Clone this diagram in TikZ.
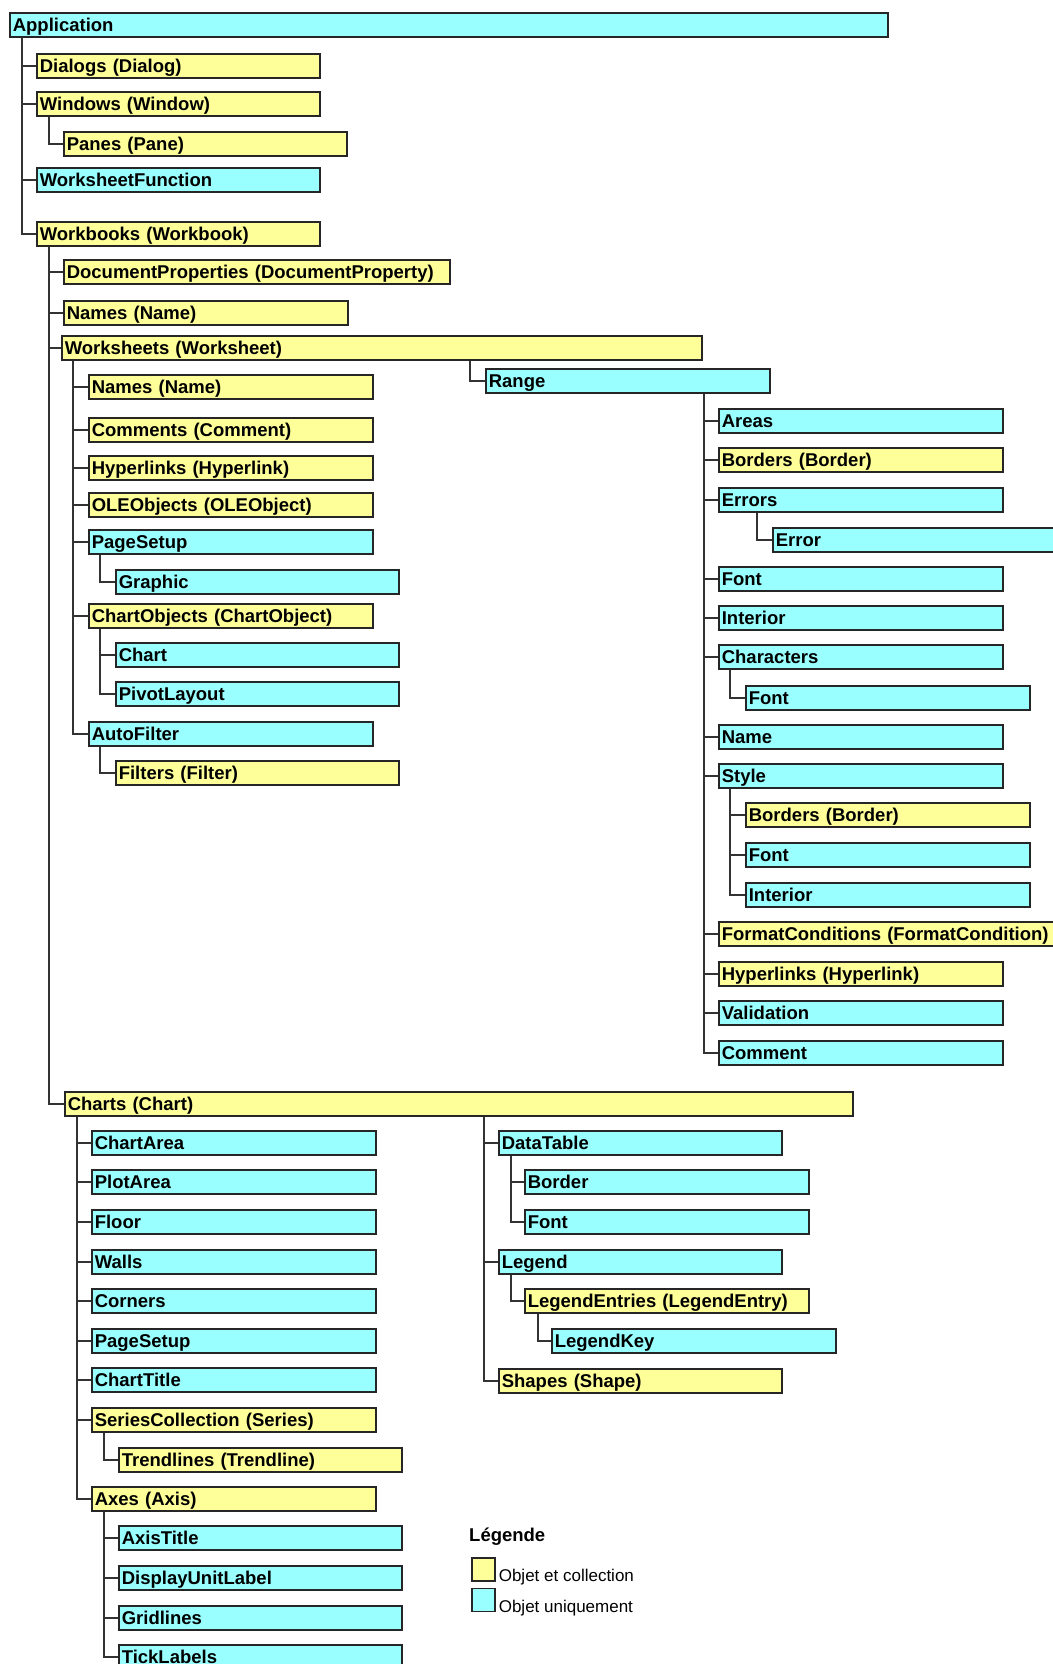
\documentclass[tikz,border=0pt]{standalone}
\usepackage{fontspec}
\setmainfont{Liberation Sans}
\usetikzlibrary{positioning}
\definecolor{collY}{HTML}{FFFF99}
\definecolor{objC}{HTML}{99FFFF}
\tikzset{
  box/.style={draw=black!85, line width=1.6pt, anchor=north west, minimum height=24pt,
    inner xsep=3pt, inner ysep=0pt, align=left, text height=16pt, text depth=2pt,
    font=\bfseries\fontsize{18.5}{20}\selectfont},
  link/.style={draw=black!80, line width=1.6pt},
  swatch/.style={draw=black!85, line width=1.6pt, minimum width=23pt, minimum height=23pt,
    inner sep=0pt, anchor=north west},
  legtext/.style={font=\fontsize{17}{19}\selectfont, inner sep=2pt, anchor=base west}
}

\begin{document}
\begin{tikzpicture}[x=1pt, y=-1pt]
    \useasboundingbox (0,0) rectangle (1052,1664);

    % Boxes: name/colour/left/right/top/text
    \foreach \nm/\col/\lx/\rx/\yy/\txt in {
      app/objC/9/887/12/Application,
      dialogs/collY/36/319/53/Dialogs (Dialog),
      windows/collY/36/319/91/Windows (Window),
      panes/collY/63/346/131/Panes (Pane),
      wsfunc/objC/36/319/167/WorksheetFunction,
      workbooks/collY/36/319/221/Workbooks (Workbook),
      docprops/collY/63/449/259/DocumentProperties (DocumentProperty),
      wbnames/collY/63/347/300/Names (Name),
      worksheets/collY/61/701/335/Worksheets (Worksheet),
      wsnames/collY/88/372/374/Names (Name),
      wscomments/collY/88/372/417/Comments (Comment),
      wshyper/collY/88/372/455/Hyperlinks (Hyperlink),
      oleobj/collY/88/372/492/OLEObjects (OLEObject),
      wspage/objC/88/372/529/PageSetup,
      graphic/objC/115/398/569/Graphic,
      chartobj/collY/88/372/603/ChartObjects (ChartObject),
      chart/objC/115/398/642/Chart,
      pivot/objC/115/398/681/PivotLayout,
      autofilter/objC/88/372/721/AutoFilter,
      filters/collY/115/398/760/Filters (Filter),
      range/objC/485/769/368/Range,
      areas/objC/718/1002/408/Areas,
      rborders/collY/718/1002/447/Borders (Border),
      errors/objC/718/1002/487/Errors,
      error/objC/772/1070/527/Error,
      rfont/objC/718/1002/566/Font,
      rinterior/objC/718/1002/605/Interior,
      characters/objC/718/1002/644/Characters,
      chfont/objC/745/1029/685/Font,
      rname/objC/718/1002/724/Name,
      style/objC/718/1002/763/Style,
      stborders/collY/745/1029/802/Borders (Border),
      stfont/objC/745/1029/842/Font,
      stinterior/objC/745/1029/882/Interior,
      formatcond/collY/718/1054/921/FormatConditions (FormatCondition),
      rhyper/collY/718/1002/961/Hyperlinks (Hyperlink),
      validation/objC/718/1002/1000/Validation,
      rcomment/objC/718/1002/1040/Comment,
      charts/collY/64/852/1091/Charts (Chart),
      chartarea/objC/91/375/1130/ChartArea,
      plotarea/objC/91/375/1169/PlotArea,
      floor/objC/91/375/1209/Floor,
      walls/objC/91/375/1249/Walls,
      corners/objC/91/375/1288/Corners,
      chpage/objC/91/375/1328/PageSetup,
      charttitle/objC/91/375/1367/ChartTitle,
      series/collY/91/375/1407/SeriesCollection (Series),
      trendlines/collY/118/401/1447/Trendlines (Trendline),
      axes/collY/91/375/1486/Axes (Axis),
      axistitle/objC/118/401/1525/AxisTitle,
      dispunit/objC/118/401/1565/DisplayUnitLabel,
      gridlines/objC/118/401/1605/Gridlines,
      ticklabels/objC/118/401/1644/TickLabels,
      datatable/objC/498/781/1130/DataTable,
      dtborder/objC/524/808/1169/Border,
      dtfont/objC/524/808/1209/Font,
      legend/objC/498/781/1249/Legend,
      legentries/collY/524/808/1288/LegendEntries (LegendEntry),
      legkey/objC/551/835/1328/LegendKey,
      shapes/collY/498/781/1368/Shapes (Shape)} {
      \pgfmathsetmacro\tw{\rx-\lx-6}
      \node[box, fill=\col, text width=\tw pt] (\nm) at (\lx,\yy) {\txt};
    }

    % Connectors: parent/offset of trunk/children
    \foreach \up/\off/\kids in {
      app/13/{dialogs,windows,wsfunc,workbooks},
      windows/13/{panes},
      workbooks/13/{docprops,wbnames,worksheets,charts},
      worksheets/12/{wsnames,wscomments,wshyper,oleobj,wspage,chartobj,autofilter},
      worksheets/409/{range},
      wspage/12/{graphic},
      chartobj/12/{chart,pivot},
      autofilter/12/{filters},
      range/219/{areas,rborders,errors,rfont,rinterior,characters,rname,style,formatcond,rhyper,validation,rcomment},
      errors/39/{error},
      characters/12/{chfont},
      style/12/{stborders,stfont,stinterior},
      charts/13/{chartarea,plotarea,floor,walls,corners,chpage,charttitle,series,axes},
      charts/420/{datatable,legend,shapes},
      series/13/{trendlines},
      axes/13/{axistitle,dispunit,gridlines,ticklabels},
      datatable/13/{dtborder,dtfont},
      legend/13/{legentries},
      legentries/14/{legkey}} {
      \foreach \kid in \kids
        \draw[link] ([xshift=\off pt]\up.south west) |- (\kid.west);
    }

    % Legend
    \node[font=\bfseries\fontsize{18.5}{20}\selectfont, anchor=west, inner sep=0pt] (legtitle) at (469,1537) {Légende};
    \node[swatch, fill=collY] (legcoll) at (471,1557) {};
    \node[legtext] (legcolltxt) at ([xshift=1pt]legcoll.south east) {Objet et collection};
    \node[swatch, fill=objC, below=6pt of legcoll] (legobj) {};
    \node[legtext] (legobjtxt) at ([xshift=1pt]legobj.south east) {Objet uniquement};

\end{tikzpicture}
\end{document}
